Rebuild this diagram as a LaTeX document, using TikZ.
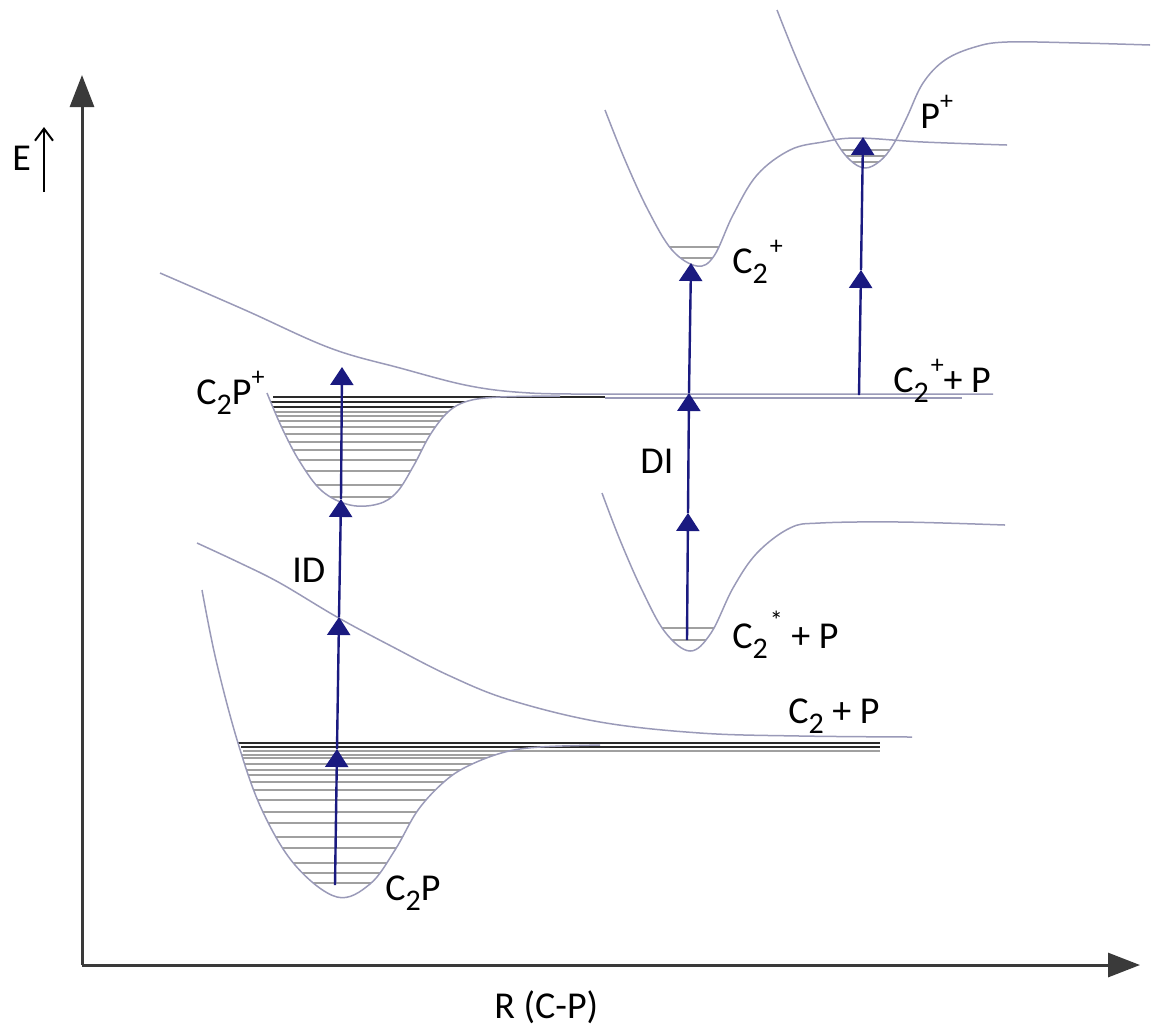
\documentclass[tikz,border=0pt]{standalone}
\usepackage{fontspec}
\setmainfont{Carlito}
\usetikzlibrary{arrows.meta}
\definecolor{pecurve}{HTML}{9A9AB8}
\definecolor{pearrow}{HTML}{1A1A80}
\definecolor{peaxis}{HTML}{3A3A3A}
\definecolor{pelevel}{HTML}{A0A0A0}
\definecolor{pedark}{HTML}{2A2A2A}
\tikzset{
  pe/.style={x=0.5pt, y=-0.5pt, font=\fontsize{19}{22}\selectfont},
  pecrv/.style={draw=pecurve, line width=0.75pt},
  pelvl/.style={draw=pelevel, line width=0.6pt},
  pedrk/.style={draw=pedark, line width=0.9pt},
  pearr/.style={-{Triangle[length=9pt,width=11.5pt]}, draw=pearrow, line width=1.2pt},
  peax/.style={-{Triangle[length=16pt,width=12pt]}, draw=peaxis, line width=1.5pt},
  pelbl/.style={inner sep=0pt, anchor=base west},
}
\newcommand{\pesub}[1]{\raisebox{-0.28em}{\fontsize{15}{15}\selectfont #1}}
\newcommand{\pesupr}[1]{\raisebox{0.5em}{\fontsize{13}{13}\selectfont #1}}
\newcommand{\pesubsup}[2]{\pesub{#1}\kern0.05em\pesupr{#2}}
\newcommand{\wellgnd}{plot[smooth, tension=0.6] coordinates {(202,590) (216,660) (238,743) (262,810) (295,865) (337,897) (370,884) (395,850) (418,810) (445,781) (470,765) (505,752) (540,747) (600,745)}}
\newcommand{\wellion}{plot[smooth, tension=0.6] coordinates {(267,393) (282,428) (300,462) (322,491) (350,505) (378,504) (397,492) (414,465) (430,435) (448,412) (468,401) (500,397) (560,396)}}
\newcommand{\wellcat}{plot[smooth, tension=0.6] coordinates {(605,110) (625,160) (648,210) (672,250) (697,266) (714,256) (733,215) (757,175) (790,150) (823,142) (857,138) (923,142) (1007,145)}}
\newcommand{\wellpat}{plot[smooth, tension=0.6] coordinates {(777,10) (795,55) (815,100) (835,140) (850,160) (865,168) (880,161) (893,145) (907,117) (923,83) (945,60) (975,47) (1007,42) (1080,43) (1150,45)}}
\newcommand{\wellexc}{plot[smooth, tension=0.6] coordinates {(602,493) (620,540) (642,590) (665,632) (690,651) (711,633) (733,588) (757,553) (790,528) (820,523) (900,522) (1005,525)}}

\begin{document}
\begin{tikzpicture}[pe]
  \useasboundingbox (0,0) rectangle (1154,1030);

  \begin{scope}
    \clip \wellgnd -- cycle;
    \foreach \y in {883,873,863,848,837,823,812,800,790,782,775,770,764,758,755}
      \draw[pelvl] (200,\y) -- (620,\y);
  \end{scope}
  \begin{scope}
    \clip \wellion -- cycle;
    \foreach \y in {497,485,471,460,450,442,434,427,421,416,412}
      \draw[pelvl] (260,\y) -- (570,\y);
    \foreach \y in {407,402}
      \draw[pedrk] (260,\y) -- (570,\y);
  \end{scope}
  \begin{scope}
    \clip \wellcat -- cycle;
    \foreach \y in {247,258}
      \draw[pelvl] (600,\y) -- (800,\y);
  \end{scope}
  \begin{scope}
    \clip \wellpat -- cycle;
    \foreach \y in {150,156,162}
      \draw[pelvl] (780,\y) -- (950,\y);
  \end{scope}
  \begin{scope}
    \clip \wellexc -- cycle;
    \foreach \y in {628,640}
      \draw[pelvl] (600,\y) -- (800,\y);
  \end{scope}

  \draw[pelvl] (243,751) -- (880,751);
  \draw[pedrk] (241,747) -- (880,747);
  \draw[pedrk, line width=1.3pt] (238,743) -- (880,743);
  \draw[pedrk, line width=1.3pt] (273,397) -- (605,397);

  \draw[pecrv] \wellgnd;
  \draw[pecrv] \wellion;
  \draw[pecrv] (605,398) -- (962,398);
  \draw[pecrv] \wellcat;
  \draw[pecrv] \wellpat;
  \draw[pecrv] \wellexc;
  \draw[pecrv] plot[smooth, tension=0.6] coordinates {(197,543) (240,563) (280,583) (337,617) (393,647) (450,676) (510,700) (600,722) (700,733) (800,736) (912,737)};
  \draw[pecrv] plot[smooth, tension=0.6] coordinates {(160,273) (245,310) (330,348) (400,368) (470,386) (530,393) (600,394)} -- (993,394);

  \coordinate (org) at (82,965);
  \coordinate (ytip) at (82,75);
  \coordinate (xtip) at (1140,965);
  \draw[peax] (org) -- (ytip);
  \draw[peax] (org) -- (xtip);
  \coordinate (ebot) at (44,192);
  \coordinate (etop) at (44,127);
  \draw[-{Straight Barb[length=6pt,width=9pt]}, line width=1pt] (ebot) -- (etop);

  \coordinate (id0) at (335,885);
  \coordinate (id1) at (337,749);
  \coordinate (id2) at (339,617);
  \coordinate (id3) at (341,499);
  \coordinate (id4) at (342,367);
  \draw[pearr] (id0) -- (id1);
  \draw[pearr] (id1) -- (id2);
  \draw[pearr] (id2) -- (id3);
  \draw[pearr] (id3) -- (id4);

  \coordinate (di0) at (687,640);
  \coordinate (di1) at (688,513);
  \coordinate (di2) at (689,393);
  \coordinate (di3) at (691,263);
  \draw[pearr] (di0) -- (di1);
  \draw[pearr] (di1) -- (di2);
  \draw[pearr] (di2) -- (di3);

  \coordinate (pi0) at (859,395);
  \coordinate (pi1) at (861,270);
  \coordinate (pi2) at (863,137);
  \draw[pearr] (pi0) -- (pi1);
  \draw[pearr] (pi1) -- (pi2);

  \node[pelbl] (lblE) at (12,170) {E};
  \node[pelbl] (lblR) at (494,1018) {R (C-P)};
  \node[pelbl] (lblionw) at (196,404) {C\pesub{2}P\pesupr{+}};
  \node[pelbl] (lblID) at (292,582) {ID};
  \node[pelbl] (lblgnd) at (385,900) {C\pesub{2}P};
  \node[pelbl] (lblasym) at (788,723) {C\pesub{2} + P};
  \node[pelbl] (lblDI) at (640,473) {DI};
  \node[pelbl] (lblexc) at (732,648) {C\pesubsup{2}{*} + P};
  \node[pelbl] (lblcatp) at (893,392) {C\pesubsup{2}{+}+ P};
  \node[pelbl] (lblcat) at (732,273) {C\pesubsup{2}{+}};
  \node[pelbl] (lblpat) at (920,128) {P\pesupr{+}};
\end{tikzpicture}
\end{document}
